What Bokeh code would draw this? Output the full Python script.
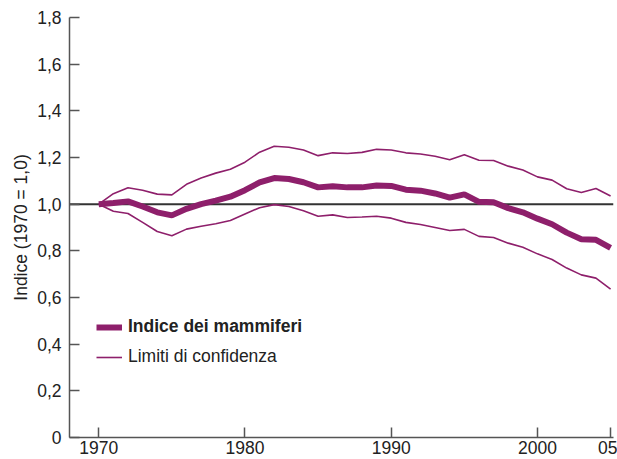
from bokeh.plotting import figure
from bokeh.models import Legend, LegendItem, Span, FixedTicker, ColumnDataSource
from bokeh.embed import file_html
from bokeh.resources import INLINE

years = list(range(1970, 2006))
indice = [1.0, 1.005, 1.012, 0.99, 0.965, 0.952, 0.98, 1.0, 1.015, 1.032,
          1.06, 1.093, 1.112, 1.108, 1.094, 1.072, 1.077, 1.072, 1.072, 1.08,
          1.078, 1.062, 1.058, 1.046, 1.028, 1.042, 1.01, 1.008, 0.983, 0.965,
          0.938, 0.914, 0.878, 0.85, 0.847, 0.813]
upper = [1.0, 1.045, 1.07, 1.06, 1.043, 1.04, 1.085, 1.112, 1.133, 1.15,
         1.18, 1.223, 1.248, 1.244, 1.232, 1.208, 1.22, 1.217, 1.222, 1.235,
         1.232, 1.22, 1.215, 1.205, 1.19, 1.212, 1.188, 1.187, 1.163, 1.146,
         1.117, 1.103, 1.066, 1.05, 1.067, 1.035]
lower = [1.0, 0.97, 0.96, 0.922, 0.883, 0.865, 0.893, 0.905, 0.916, 0.93,
         0.958, 0.985, 0.998, 0.99, 0.972, 0.948, 0.954, 0.943, 0.945, 0.948,
         0.94, 0.922, 0.913, 0.9, 0.887, 0.892, 0.862, 0.857, 0.833, 0.815,
         0.787, 0.763, 0.726, 0.697, 0.683, 0.636]
x_ticks = [1970, 1980, 1990, 2000, 2005]
x_tick_labels = ["1970", "1980", "1990", "2000", "05"]
y_ticks = [0, 0.2, 0.4, 0.6, 0.8, 1.0, 1.2, 1.4, 1.6, 1.8]
y_tick_labels = ["0", "0,2", "0,4", "0,6", "0,8", "1,0", "1,2", "1,4", "1,6", "1,8"]

src = ColumnDataSource(dict(x=years, m=indice, u=upper, l=lower))

COLOR = "#8e1f6b"
FONT = "Liberation Sans"
FS = "17.5px"

p = figure(width=617, height=459, output_backend="svg", toolbar_location=None,
           x_range=(1968.0, 2005.2), y_range=(0, 1.8),
           min_border_left=69, min_border_right=4, min_border_top=17,
           min_border_bottom=22)
p.outline_line_color = None
p.xgrid.visible = False
p.ygrid.visible = False
p.background_fill_color = "white"

ref = Span(location=1.0, dimension="width", line_color="#333333", line_width=2,
           level="underlay")
p.add_layout(ref)

r_u = p.line("x", "u", source=src, line_color=COLOR, line_width=1.6)
r_l = p.line("x", "l", source=src, line_color=COLOR, line_width=1.6)
r_m = p.line("x", "m", source=src, line_color=COLOR, line_width=6)

for ax in (p.xaxis[0], p.yaxis[0]):
    ax.axis_line_color = "#555555"
    ax.axis_line_width = 1.5
    ax.major_tick_line_color = "#555555"
    ax.major_tick_line_width = 1.5
    ax.major_tick_in = 10
    ax.major_tick_out = 0
    ax.minor_tick_line_color = None
    ax.major_label_text_font = FONT
    ax.major_label_text_font_size = FS
    ax.major_label_text_color = "#222222"

p.xaxis[0].ticker = FixedTicker(ticks=x_ticks)
p.xaxis[0].major_label_overrides = {t: s for t, s in zip(x_ticks, x_tick_labels)}
p.xaxis[0].major_label_standoff = 3
p.yaxis[0].ticker = FixedTicker(ticks=y_ticks)
p.yaxis[0].major_label_overrides = {t: s for t, s in zip(y_ticks, y_tick_labels)}
p.yaxis[0].major_label_standoff = 8
p.yaxis[0].axis_label = "Indice (1970 = 1,0)"
p.yaxis[0].axis_label_text_font = FONT
p.yaxis[0].axis_label_text_font_size = FS
p.yaxis[0].axis_label_text_font_style = "normal"
p.yaxis[0].axis_label_text_color = "#222222"
p.yaxis[0].axis_label_standoff = 3

def make_legend(label, renderer, style, loc):
    lg = Legend(items=[LegendItem(label=label, renderers=[renderer])],
                location=loc, padding=0, margin=0, spacing=0,
                glyph_width=26, glyph_height=16, label_height=16,
                label_standoff=6, border_line_color=None,
                background_fill_alpha=0,
                label_text_font=FONT, label_text_font_size=FS,
                label_text_font_style=style, label_text_color="#222222")
    return lg

p.add_layout(make_legend("Indice dei mammiferi", r_m, "bold", (27, 100)))
p.add_layout(make_legend("Limiti di confidenza", r_u, "normal", (27, 70)))

open("out.html", "w").write(file_html(p, INLINE))
